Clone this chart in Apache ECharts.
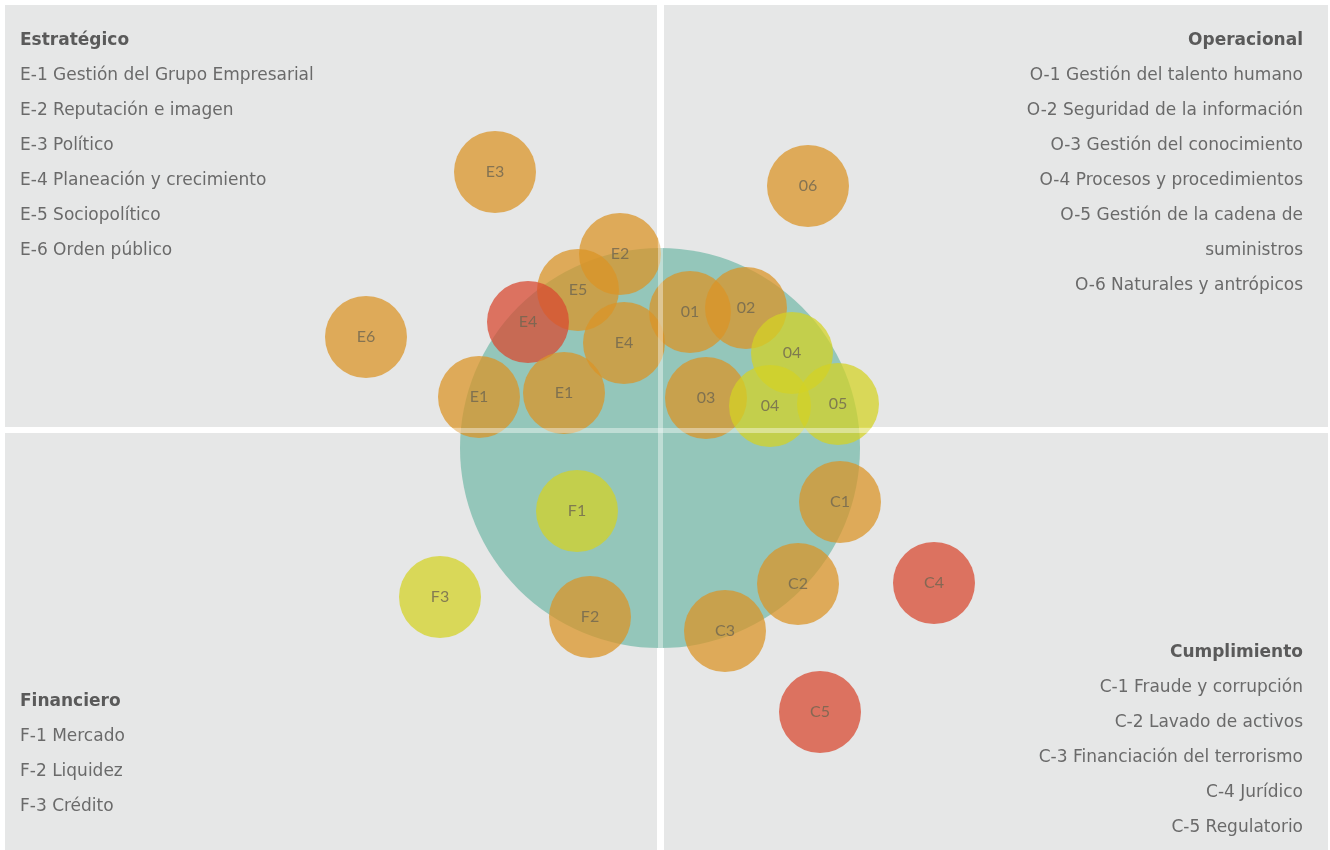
<!DOCTYPE html>
<html>
<head>
<meta charset="utf-8">
<script src="https://cdn.jsdelivr.net/npm/echarts@6/dist/echarts.min.js"></script>
<style>
html,body{margin:0;padding:0;background:#ffffff;}
#chart{width:1330px;height:850px;}
</style>
</head>
<body>
<div id="chart"></div>
<script>
// ---- Data (x: right of centre, y: above centre) ----
const bubbleLabels = ['E3','06','E2','E5','E4','E6','01','02','E4','04','E1','E1','03','04','05','F1','C1','F3','C2','C4','F2','C3','C5'];
const bubbleX      = [-165, 148, -40, -82, -132, -294, 30, 86, -36, 132, -181, -96, 46, 110, 178, -83, 180, -220, 138, 274, -70, 65, 160];
const bubbleY      = [276, 262, 194, 158, 126, 111, 136, 140, 105, 95, 51, 55, 50, 42, 44, -63, -54, -149, -136, -135, -169, -183, -264];
const bubbleLevel  = ['orange','orange','orange','orange','red','orange','orange','orange','orange','yellow','orange','orange','orange','yellow','yellow','yellow','orange','yellow','orange','red','orange','orange','red'];

const zoneTitles = ['Estratégico','Operacional','Financiero','Cumplimiento'];
const estrategicoItems = ['E-1 Gestión del Grupo Empresarial','E-2 Reputación e imagen','E-3 Político','E-4 Planeación y crecimiento','E-5 Sociopolítico','E-6 Orden público'];
const operacionalItems = ['O-1 Gestión del talento humano','O-2 Seguridad de la información','O-3 Gestión del conocimiento','O-4 Procesos y procedimientos','O-5 Gestión de la cadena de','suministros','O-6 Naturales y antrópicos'];
const financieroItems  = ['F-1 Mercado','F-2 Liquidez','F-3 Crédito'];
const cumplimientoItems = ['C-1 Fraude y corrupción','C-2 Lavado de activos','C-3 Financiación del terrorismo','C-4 Jurídico','C-5 Regulatorio'];

const levelColors = {
  orange: 'rgba(218,148,38,0.92)',
  red: 'rgba(216,74,50,0.93)',
  yellow: 'rgba(212,210,36,0.92)'
};

const chart = echarts.init(document.getElementById('chart'), null, {renderer:'canvas'});

const FONT = '"DejaVu Sans"';
const TXT = '#6a6a6a';

function textBlock(title, items, x, y, align) {
  const els = [];
  els.push({type:'text', z:100, x:x, y:y, style:{text:title, fill:'#5a5a5a', fontSize:17, fontWeight:'bold', fontFamily:FONT, align:align, verticalAlign:'middle'}});
  items.forEach((t,i)=>{
    els.push({type:'text', z:100, x:x, y:y + 35*(i+1), style:{text:t, fill:TXT, fontSize:17, fontFamily:FONT, align:align, verticalAlign:'middle'}});
  });
  return els;
}

const bubbleData = bubbleLabels.map((l,i)=>({
  value:[bubbleX[i], bubbleY[i]],
  name:l,
  itemStyle:{color: levelColors[bubbleLevel[i]]}
}));

const option = {
  animation:false,
  backgroundColor:'#ffffff',
  grid:{left:0,right:0,top:0,bottom:0},
  xAxis:{type:'value', min:-660, max:670, show:false},
  yAxis:{type:'value', min:-402, max:448, show:false},
  series:[
    {
      type:'scatter',
      z:1,
      silent:true,
      data:[],
      markArea:{
        silent:true,
        itemStyle:{color:'#e6e7e7'},
        data:[
          [{coord:[-655,443]},{coord:[-3,21]}],
          [{coord:[4,443]},{coord:[668,21]}],
          [{coord:[-655,15]},{coord:[-3,-402]}],
          [{coord:[4,15]},{coord:[668,-402]}]
        ]
      }
    },
    {
      type:'scatter',
      z:2,
      silent:true,
      symbolSize:400,
      itemStyle:{color:'#94c6ba', opacity:1},
      data:[[0,0]],
      markLine:{
        silent:true,
        symbol:'none',
        label:{show:false},
        lineStyle:{color:'rgba(255,255,255,0.4)', width:5, type:'solid'},
        data:[
          [{coord:[0.5,448]},{coord:[0.5,-402]}],
          [{coord:[-660,18]},{coord:[670,18]}]
        ]
      }
    },
    {
      type:'scatter',
      z:3,
      symbolSize:82,
      data:bubbleData,
      label:{
        show:true,
        position:'inside',
        formatter:p=>p.name,
        color:'#6e6550',
        fontSize:16,
        fontFamily:'Lato'
      }
    }
  ],
  graphic:{elements:[].concat(
    textBlock(zoneTitles[0], estrategicoItems, 20, 41, 'left'),
    textBlock(zoneTitles[1], operacionalItems, 1303, 41, 'right'),
    textBlock(zoneTitles[2], financieroItems, 20, 702, 'left'),
    textBlock(zoneTitles[3], cumplimientoItems, 1303, 653, 'right')
  )}
};
chart.setOption(option);
</script>
</body>
</html>
